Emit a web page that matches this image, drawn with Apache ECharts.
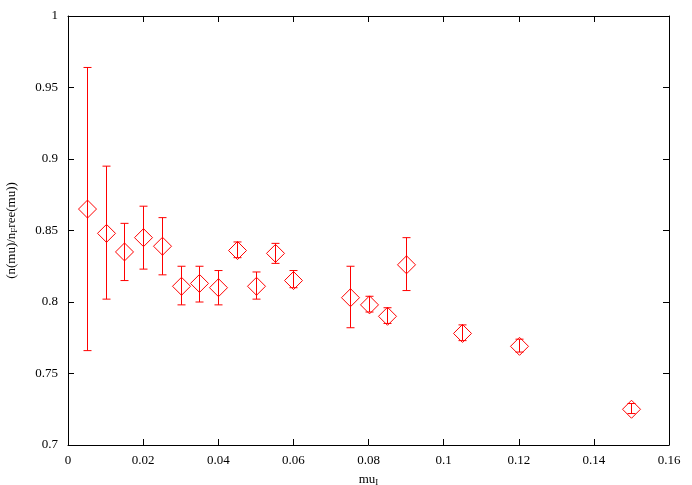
<!DOCTYPE html>
<html>
<head>
<meta charset="utf-8">
<script src="https://cdn.jsdelivr.net/npm/echarts@6/dist/echarts.min.js"></script>
<style>html,body{margin:0;padding:0;background:#fff;}#c{width:692px;height:485px;}</style>
</head>
<body>
<div id="c"></div>
<script>
var muValues = [0.005, 0.01, 0.015, 0.02, 0.025, 0.03, 0.035, 0.04, 0.045, 0.05, 0.055, 0.06, 0.075, 0.08, 0.085, 0.09, 0.105, 0.12, 0.15];
var ratioValues = [0.865, 0.848, 0.835, 0.845, 0.839, 0.811, 0.813, 0.810, 0.836, 0.811, 0.834, 0.815, 0.803, 0.798, 0.790, 0.826, 0.778, 0.769, 0.725];
var errHigh = [0.964, 0.895, 0.855, 0.867, 0.859, 0.825, 0.825, 0.822, 0.842, 0.821, 0.841, 0.822, 0.825, 0.804, 0.796, 0.845, 0.784, 0.774, 0.729];
var errLow = [0.766, 0.802, 0.815, 0.823, 0.819, 0.798, 0.800, 0.798, 0.831, 0.802, 0.827, 0.810, 0.782, 0.793, 0.785, 0.808, 0.773, 0.765, 0.722];
var xTicks = {min: 0, max: 0.16, interval: 0.02};
var yTicks = {min: 0.7, max: 1, interval: 0.05};

var FONT = 'Liberation Serif';
var RED = '#ff0000';
var chart = echarts.init(document.getElementById('c'), null, {renderer: 'canvas'});

var rows = muValues.map(function (m, i) { return [m, ratioValues[i], errLow[i], errHigh[i]]; });

function fmt(v) { return String(parseFloat(v.toFixed(4))); }

function xAx(pos, show) {
  return {
    type: 'value', position: pos, min: xTicks.min, max: xTicks.max, interval: xTicks.interval,
    axisLine: {show: true, onZero: false, lineStyle: {color: '#000', width: 1}},
    axisTick: {show: true, inside: true, length: 6, lineStyle: {color: '#000', width: 1}},
    axisLabel: {show: show, color: '#000', fontFamily: FONT, fontSize: 13, margin: 9, formatter: fmt},
    splitLine: {show: false}
  };
}
function yAx(pos, show) {
  return {
    type: 'value', position: pos, min: yTicks.min, max: yTicks.max, interval: yTicks.interval,
    axisLine: {show: true, onZero: false, lineStyle: {color: '#000', width: 1}},
    axisTick: {show: true, inside: true, length: 6, lineStyle: {color: '#000', width: 1}},
    axisLabel: {show: show, color: '#000', fontFamily: FONT, fontSize: 13, margin: 10, formatter: fmt},
    splitLine: {show: false}
  };
}

var xMain = xAx('bottom', true);
xMain.name = 'mu{sub|I}';
xMain.nameLocation = 'middle';
xMain.nameGap = 27;
xMain.nameTextStyle = {color: '#000', fontFamily: FONT, fontSize: 13,
  rich: {sub: {fontFamily: FONT, fontSize: 9, verticalAlign: 'bottom', padding: [6, 0, 0, 0], color: '#000'}}};

var yMain = yAx('left', true);
yMain.name = '(n(mu)/n{sub|F}ree(mu))';
yMain.nameLocation = 'middle';
yMain.nameGap = 49;
yMain.nameRotate = 90;
yMain.nameTextStyle = {color: '#000', fontFamily: FONT, fontSize: 13,
  rich: {sub: {fontFamily: FONT, fontSize: 9, verticalAlign: 'bottom', padding: [6, 0, 0, 0], color: '#000'}}};

var option = {
  animation: false,
  backgroundColor: '#fff',
  color: [RED],
  grid: {left: 68, right: 23, top: 16, bottom: 40, containLabel: false, outerBoundsMode: 'none'},
  xAxis: [xMain, xAx('top', false)],
  yAxis: [yMain, yAx('right', false)],
  series: [
    {
      type: 'custom',
      xAxisIndex: 0, yAxisIndex: 0,
      data: rows,
      encode: {x: 0, y: [1, 2, 3]},
      itemStyle: {color: RED},
      renderItem: function (params, api) {
        var x = api.value(0);
        var c = api.coord([x, api.value(1)]);
        var lo = api.coord([x, api.value(2)]);
        var hi = api.coord([x, api.value(3)]);
        var cx = Math.round(c[0]) + 0.5;
        var cy = c[1];
        var w = 4;
        var h = 9;
        return {
          type: 'group',
          children: [
            {type: 'polygon', shape: {points: [[cx, cy - h], [cx + h, cy], [cx, cy + h], [cx - h, cy]]},
              style: {stroke: RED, fill: null, lineWidth: 1}},
            {type: 'line', shape: {x1: cx, y1: hi[1], x2: cx, y2: lo[1]}, style: {stroke: RED, fill: null, lineWidth: 1}},
            {type: 'line', shape: {x1: cx - w, y1: hi[1], x2: cx + w, y2: hi[1]}, style: {stroke: RED, fill: null, lineWidth: 1}},
            {type: 'line', shape: {x1: cx - w, y1: lo[1], x2: cx + w, y2: lo[1]}, style: {stroke: RED, fill: null, lineWidth: 1}}
          ]
        };
      },
      silent: true,
      z: 3
    }
  ]
};
chart.setOption(option);
</script>
</body>
</html>
